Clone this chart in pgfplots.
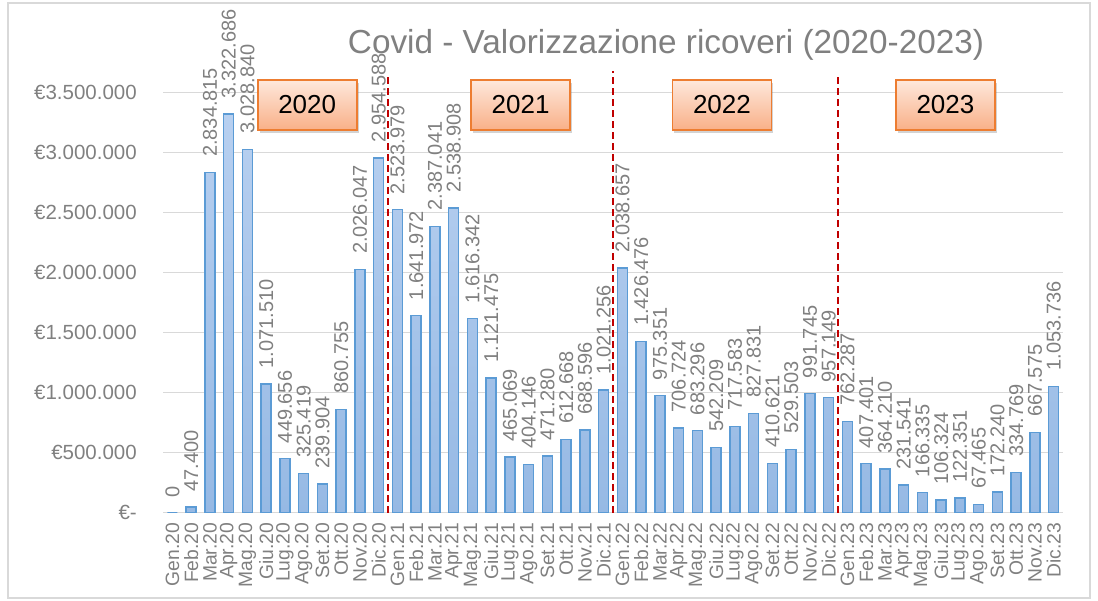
\documentclass[border=0pt]{standalone}
\usepackage{fontspec}
\setmainfont{Liberation Sans}
\usepackage{pgfplots}
\pgfplotsset{compat=1.18}
\usepackage{pgfplotstable}
\usetikzlibrary{shadows}
\definecolor{txtgrey}{RGB}{128,128,128}
\definecolor{gridgrey}{RGB}{217,217,217}
\definecolor{barline}{RGB}{91,155,213}
\definecolor{bartop}{RGB}{184,208,240}
\definecolor{barbot}{RGB}{150,185,228}
\definecolor{boxline}{RGB}{237,125,49}
\definecolor{boxtop}{RGB}{254,232,220}
\definecolor{boxbot}{RGB}{249,176,136}
\definecolor{darkred}{RGB}{192,0,0}

\pgfplotstableread{
x y lab
0 0 0
1 47400 47.400
2 2834815 2.834.815
3 3322686 3.322.686
4 3028840 3.028.840
5 1071510 1.071.510
6 449656 449.656
7 325419 325.419
8 239904 239.904
9 860755 860.755
10 2026047 2.026.047
11 2954588 2.954.588
12 2523979 2.523.979
13 1641972 1.641.972
14 2387041 2.387.041
15 2538908 2.538.908
16 1616342 1.616.342
17 1121475 1.121.475
18 465069 465.069
19 404146 404.146
20 471280 471.280
21 612668 612.668
22 688596 688.596
23 1021256 1.021.256
24 2038657 2.038.657
25 1426476 1.426.476
26 975351 975.351
27 706724 706.724
28 683296 683.296
29 542209 542.209
30 717583 717.583
31 827831 827.831
32 410621 410.621
33 529503 529.503
34 991745 991.745
35 957149 957.149
36 762287 762.287
37 407401 407.401
38 364210 364.210
39 231541 231.541
40 166335 166.335
41 106324 106.324
42 122351 122.351
43 67465 67.465
44 172240 172.240
45 334769 334.769
46 667575 667.575
47 1053736 1.053.736
}\datatab

\begin{document}
\begin{tikzpicture}
\path (0,0) rectangle (1098bp,601bp);
\draw[gridgrey, line width=1.5bp] (8bp,3bp) rectangle (1090bp,598bp);
\node[text=txtgrey, font=\fontsize{33.3bp}{38bp}\selectfont, inner sep=0pt] at (666bp,556bp) {Covid - Valorizzazione ricoveri (2020-2023)};
\begin{axis}[
  at={(163bp,88.3bp)}, anchor=south west,
  width=900bp, height=420bp, scale only axis,
  xmin=-0.5, xmax=47.5, ymin=0, ymax=3500000,
  clip=false,
  axis x line*=bottom, axis y line*=left,
  x axis line style={gridgrey, line width=1.5bp, -},
  y axis line style={draw=none},
  major tick length=0pt,
  ymajorgrids, grid style={gridgrey, line width=1.5bp},
  ytick={0,500000,1000000,1500000,2000000,2500000,3000000,3500000},
  yticklabels={€-,€500.000,€1.000.000,€1.500.000,€2.000.000,€2.500.000,€3.000.000,€3.500.000},
  xtick={0,...,47},
  xticklabels={Gen.20,Feb.20,Mar.20,Apr.20,Mag.20,Giu.20,Lug.20,Ago.20,Set.20,Ott.20,Nov.20,Dic.20,
               Gen.21,Feb.21,Mar.21,Apr.21,Mag.21,Giu.21,Lug.21,Ago.21,Set.21,Ott.21,Nov.21,Dic.21,
               Gen.22,Feb.22,Mar.22,Apr.22,Mag.22,Giu.22,Lug.22,Ago.22,Set.22,Ott.22,Nov.22,Dic.22,
               Gen.23,Feb.23,Mar.23,Apr.23,Mag.23,Giu.23,Lug.23,Ago.23,Set.23,Ott.23,Nov.23,Dic.23},
  yticklabel style={text=txtgrey, font=\fontsize{20.5bp}{23bp}\selectfont, inner sep=0pt, anchor=east, xshift=-26bp},
  xticklabel style={text=txtgrey, font=\fontsize{19.3bp}{22bp}\selectfont, inner sep=0pt, yshift=-10bp, rotate=90, anchor=east},
  scaled y ticks=false,
]
\addplot[ybar, bar width=10bp, draw=barline, line width=1.3bp, top color=bartop, bottom color=barbot,
  nodes near coords, point meta=explicit symbolic,
  every node near coord/.append style={rotate=90, anchor=west, text=txtgrey,
     font=\fontsize{20bp}{23bp}\selectfont, inner sep=0pt, xshift=15bp}]
  table[x=x, y=y, meta=lab] {\datatab};
\addplot[darkred, line width=1.6bp, dash pattern=on 7bp off 4bp, forget plot] coordinates {(11.5,0) (11.5,3650000)};
\addplot[darkred, line width=1.6bp, dash pattern=on 7bp off 4bp, forget plot] coordinates {(23.5,0) (23.5,3680000)};
\addplot[darkred, line width=1.6bp, dash pattern=on 7bp off 4bp, forget plot] coordinates {(35.5,0) (35.5,3650000)};
\tikzset{yearbox/.style={draw=boxline, line width=1.8bp, top color=boxtop, bottom color=boxbot,
   minimum width=99bp, minimum height=50bp, inner sep=0pt, font=\fontsize{26bp}{30bp}\selectfont,
   drop shadow={opacity=0.35, shadow xshift=2bp, shadow yshift=-3bp}}}
\node[yearbox] at (axis cs:7.19,3398000) {2020};
\node[yearbox] at (axis cs:18.57,3398000) {2021};
\node[yearbox] at (axis cs:29.31,3398000) {2022};
\node[yearbox] at (axis cs:41.23,3398000) {2023};
\end{axis}
\end{tikzpicture}
\end{document}
